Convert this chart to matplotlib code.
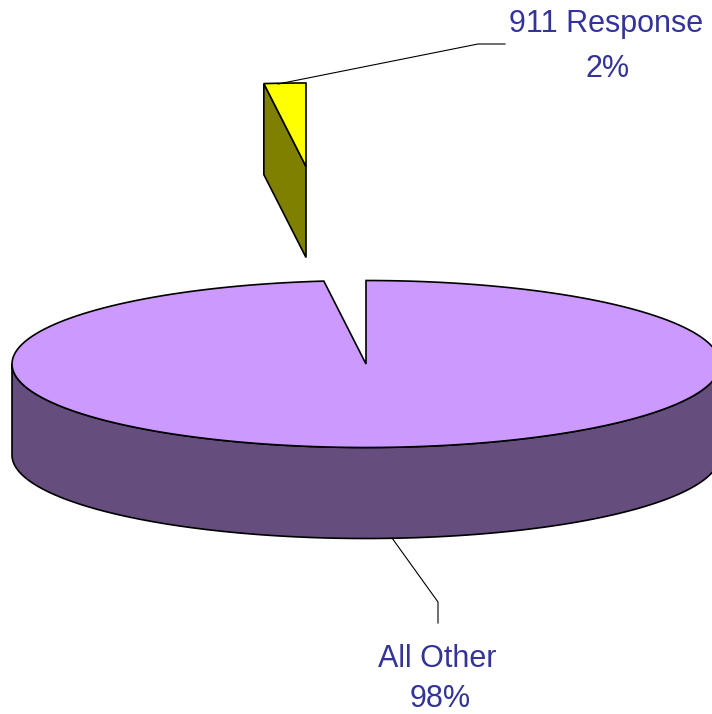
import numpy as np
import matplotlib
matplotlib.use('Agg')
import matplotlib.pyplot as plt
from matplotlib.patches import Polygon

# dados do grafico
categorias = ['All Other', '911 Response']
valores = [98.1, 1.9]
rotulos = ['98%', '2%']

plt.rcParams['font.family'] = ['Liberation Sans', 'DejaVu Sans']

# geometria do pie em pixels
cx, cy = 366, 364
rx, ry = 354, 83.5
prof = 91
exp_x, exp_y = -60, -197.5

cor_texto = '#333399'
cor_topo = ['#cc99ff', '#ffff00']
cor_lado = ['#654d7e', '#808000']


def arco(ang_ini, ang_fim, n=200):
    # angulos em graus, sentido horario a partir do topo
    t = np.radians(90 - np.linspace(ang_ini, ang_fim, n))
    return rx * np.cos(t), -ry * np.sin(t)


fig = plt.figure(figsize=(7.12, 7.14), dpi=100)
ax = fig.add_axes([0, 0, 1, 1])
ax.set_xlim(0, 712)
ax.set_ylim(714, 0)
ax.axis('off')

angulos = np.cumsum([0] + valores) / sum(valores) * 360

# fatia grande: lateral
x, y = arco(90, 270)
xs = np.concatenate([cx + x, (cx + x)[::-1]])
ys = np.concatenate([cy + y, (cy + y + prof)[::-1]])
ax.add_patch(Polygon(np.column_stack([xs, ys]), fc=cor_lado[0], ec='black', lw=1.2, zorder=2))

# fatia grande: topo
x, y = arco(angulos[0], angulos[1])
xs = np.concatenate([[cx], cx + x])
ys = np.concatenate([[cy], cy + y])
ax.add_patch(Polygon(np.column_stack([xs, ys]), fc=cor_topo[0], ec='black', lw=1.2, zorder=3))

# fatia pequena deslocada
x, y = arco(angulos[1], angulos[2], 20)
x0, y0 = cx + exp_x, cy + exp_y
borda_x = x0 + x
borda_y = y0 + y
lado = [(x0, y0), (borda_x[0], borda_y[0]), (borda_x[0], borda_y[0] + prof), (x0, y0 + prof)]
ax.add_patch(Polygon(lado, fc=cor_lado[1], ec='black', lw=1.2, zorder=2))
ax.add_patch(Polygon(np.column_stack([np.r_[x0, borda_x], np.r_[y0, borda_y]]),
                     fc=cor_topo[1], ec='black', lw=1.2, zorder=3))

# linhas de chamada
ax.plot([278, 478, 505], [84, 44, 44], color='black', lw=0.8, zorder=4)
ax.plot([392, 438, 438], [538, 602, 623], color='black', lw=0.8, zorder=4)

# rotulos
ax.text(606, 24, categorias[1], color=cor_texto, fontsize=22, ha='center', va='center')
ax.text(608, 69, rotulos[1], color=cor_texto, fontsize=22, ha='center', va='center')
ax.text(437, 659, categorias[0], color=cor_texto, fontsize=22, ha='center', va='center')
ax.text(440, 699, rotulos[0], color=cor_texto, fontsize=22, ha='center', va='center')

fig.savefig('out.png', dpi=100)
